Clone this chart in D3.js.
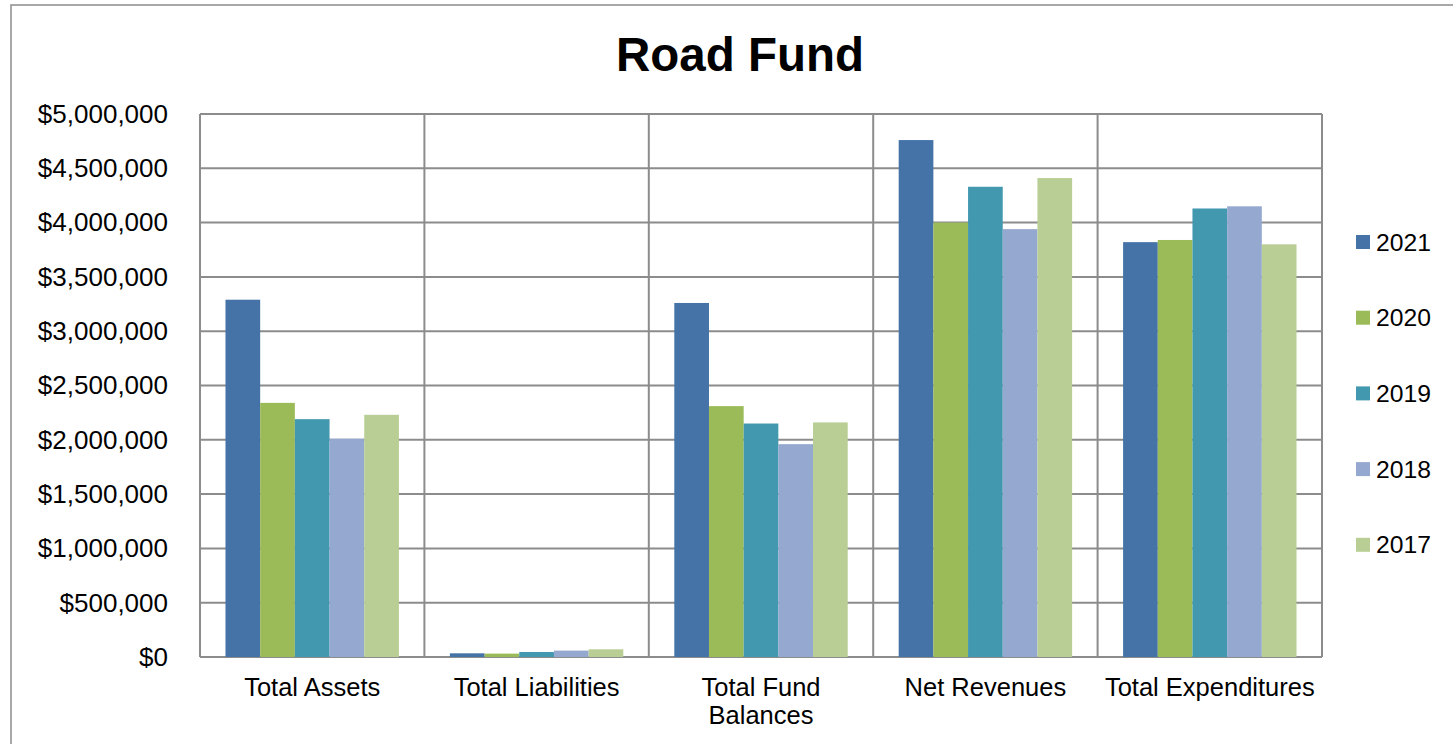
<!DOCTYPE html>
<html>
<head>
<meta charset="utf-8">
<script src="https://cdn.jsdelivr.net/npm/d3@7"></script>
<style>
  body { margin: 0; background: #fff; }
  svg { display: block; font-family: Arial, "Liberation Sans", sans-serif; }
</style>
</head>
<body>
<svg id="chart" width="1453" height="744"></svg>
<script>
// chart values
const categories = ['Total Assets', 'Total Liabilities', 'Total Fund Balances', 'Net Revenues', 'Total Expenditures'];
const years = ['2021', '2020', '2019', '2018', '2017'];
const v2021 = [3290000, 34000, 3260000, 4760000, 3820000];
const v2020 = [2340000, 31000, 2310000, 4000000, 3840000];
const v2019 = [2190000, 46000, 2150000, 4330000, 4130000];
const v2018 = [2010000, 59000, 1960000, 3940000, 4150000];
const v2017 = [2230000, 71000, 2160000, 4410000, 3800000];
const yTicks = [0, 500000, 1000000, 1500000, 2000000, 2500000, 3000000, 3500000, 4000000, 4500000, 5000000];
const colors = ['#4573a7', '#9bbb59', '#4198af', '#95a9d0', '#b9ce95'];

const series = [v2021, v2020, v2019, v2018, v2017];
const rows = [];
categories.forEach((c, i) => {
    years.forEach((y, j) => {
        rows.push({category: c, year: y, value: series[j][i]});
    });
});

const margin = {
    top: 114,
    left: 200,
    right: 131,
    bottom: 87
};
const width = 1453 - margin.left - margin.right;
const height = 744 - margin.top - margin.bottom;

const svg = d3.select('#chart');

// outer frame
svg.append('rect')
    .attr('x', 11)
    .attr('y', 5)
    .attr('width', 1460)
    .attr('height', 760)
    .attr('fill', 'none')
    .attr('stroke', '#8c8c8c')
    .attr('stroke-width', 1.5);

svg.append('text')
    .attr('x', 740)
    .attr('y', 71)
    .attr('text-anchor', 'middle')
    .attr('font-size', 47.5)
    .attr('font-weight', 'bold')
    .attr('fill', '#000')
    .text('Road Fund');

const x = d3.scaleBand()
    .domain(categories)
    .range([0, width]);

const xInner = d3.scaleBand()
    .domain(years)
    .range([0, x.bandwidth()])
    .paddingOuter(0.735);

const y = d3.scaleLinear()
    .domain([0, 5000000])
    .range([height, 0]);

const g = svg.append('g')
    .attr('transform', `translate(${margin.left}, ${margin.top})`);

// horizontal gridlines
g.append('g')
    .selectAll('line')
    .data(yTicks)
    .enter()
    .append('line')
    .attr('x1', 0)
    .attr('x2', width)
    .attr('y1', d => y(d))
    .attr('y2', d => y(d))
    .attr('stroke', '#8c8c8c')
    .attr('stroke-width', 2);

// vertical gridlines at category boundaries
g.append('g')
    .selectAll('line')
    .data(categories.concat(['end']))
    .enter()
    .append('line')
    .attr('x1', (d, i) => i < categories.length ? x(d) : width)
    .attr('x2', (d, i) => i < categories.length ? x(d) : width)
    .attr('y1', 0)
    .attr('y2', height)
    .attr('stroke', '#8c8c8c')
    .attr('stroke-width', 2);

// bars
g.append('g')
    .selectAll('rect')
    .data(rows)
    .enter()
    .append('rect')
    .attr('x', d => x(d.category) + xInner(d.year))
    .attr('y', d => y(d.value))
    .attr('width', xInner.bandwidth())
    .attr('height', d => height - y(d.value))
    .attr('fill', d => colors[years.indexOf(d.year)]);

// y axis labels
const yAxis = d3.axisLeft(y)
    .tickValues(yTicks)
    .tickSize(0)
    .tickPadding(32)
    .tickFormat(d => '$' + d3.format(',')(d));

g.append('g')
    .call(yAxis)
    .call(s => s.select('.domain').remove())
    .selectAll('text')
    .attr('font-size', 26)
    .attr('font-family', 'Arial, "Liberation Sans", sans-serif')
    .attr('fill', '#000');

// x axis labels (wrapped like the original)
const xLabelLines = {
    'Total Assets': ['Total Assets'],
    'Total Liabilities': ['Total Liabilities'],
    'Total Fund Balances': ['Total Fund', 'Balances'],
    'Net Revenues': ['Net Revenues'],
    'Total Expenditures': ['Total Expenditures']
};

const xl = g.append('g')
    .selectAll('text')
    .data(categories)
    .enter()
    .append('text')
    .attr('x', d => x(d) + x.bandwidth() / 2)
    .attr('y', height + 39)
    .attr('text-anchor', 'middle')
    .attr('font-size', 25.5)
    .attr('fill', '#000');

xl.selectAll('tspan')
    .data(d => xLabelLines[d].map(t => ({t: t, c: d})))
    .enter()
    .append('tspan')
    .attr('x', d => x(d.c) + x.bandwidth() / 2)
    .attr('dy', (d, i) => i === 0 ? 0 : 28)
    .text(d => d.t);

// legend
const legend = svg.append('g')
    .selectAll('g')
    .data(years)
    .enter()
    .append('g')
    .attr('transform', (d, i) => `translate(1356, ${242 + i * 75.7})`);

legend.append('rect')
    .attr('x', 0)
    .attr('y', -7)
    .attr('width', 14)
    .attr('height', 14)
    .attr('fill', (d, i) => colors[i]);

legend.append('text')
    .attr('x', 20)
    .attr('y', 8.5)
    .attr('font-size', 24.7)
    .attr('fill', '#000')
    .text(d => d);
</script>
</body>
</html>
